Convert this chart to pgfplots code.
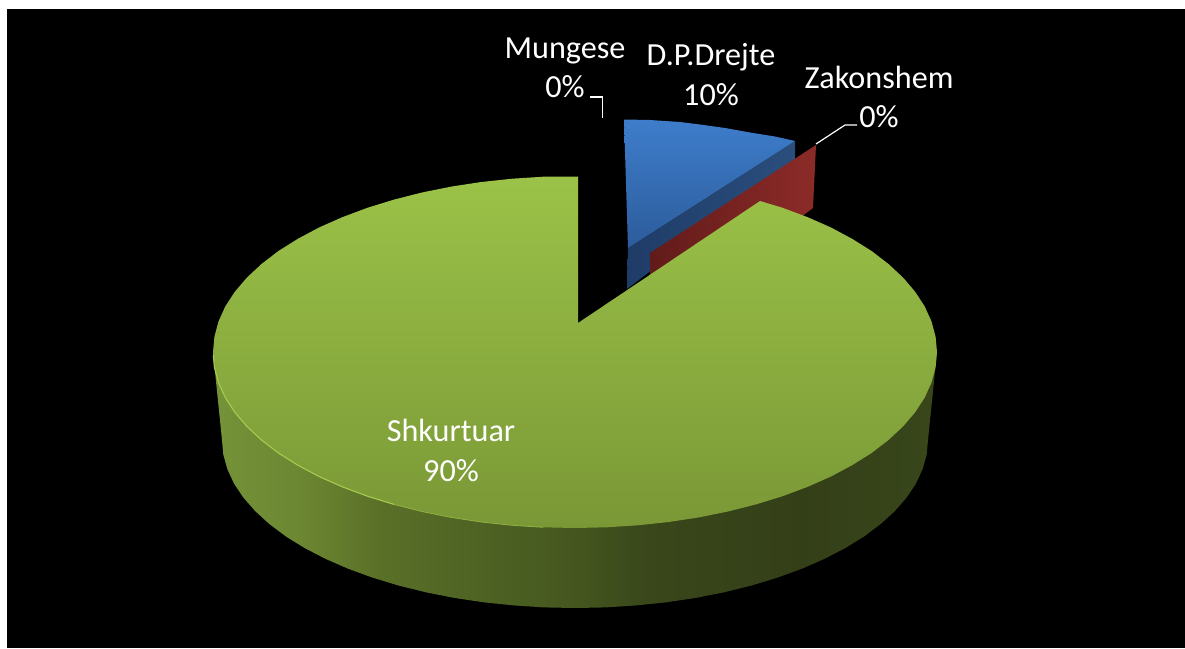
\documentclass[border=0pt]{standalone}
\usepackage{pgfplots}
\pgfplotsset{compat=1.18}
\usepackage{fontspec}
\setmainfont{Carlito}
\definecolor{gtop}{RGB}{155,194,72}
\definecolor{gbot}{RGB}{122,152,54}
\definecolor{gsa}{RGB}{116,146,56}
\definecolor{gsb}{RGB}{108,135,50}
\definecolor{gsc}{RGB}{90,112,40}
\definecolor{gsd}{RGB}{78,98,35}
\definecolor{gse}{RGB}{70,88,31}
\definecolor{gsf}{RGB}{57,71,26}
\definecolor{gsg}{RGB}{52,63,24}
\definecolor{gsh}{RGB}{56,70,26}
\definecolor{rsa}{RGB}{98,27,26}
\definecolor{rsb}{RGB}{140,43,40}
\definecolor{bsa}{RGB}{31,60,103}
\definecolor{bsb}{RGB}{42,78,125}
\definecolor{btop}{RGB}{62,125,203}
\definecolor{bbot}{RGB}{44,92,155}
\definecolor{hla}{RGB}{165,203,80}
\definecolor{hlb}{RGB}{145,178,66}
\pgfdeclarehorizontalshading{gside}{100bp}{color(0bp)=(gsa);color(25.5bp)=(gsa);color(31bp)=(gsb);color(36.5bp)=(gsc);color(43.5bp)=(gsd);color(49.5bp)=(gse);color(55bp)=(gsf);color(65.5bp)=(gsg);color(74.5bp)=(gsh);color(100bp)=(gsh)}
\pgfdeclarehorizontalshading{rside}{100bp}{color(0bp)=(rsa);color(25bp)=(rsa);color(75bp)=(rsb);color(100bp)=(rsb)}
\pgfdeclarehorizontalshading{bside}{100bp}{color(0bp)=(bsa);color(25bp)=(bsa);color(75bp)=(bsb);color(100bp)=(bsb)}
\begin{document}
\begin{tikzpicture}
\begin{axis}[scale only axis,width=1185bp,height=648bp,xmin=0,xmax=1185,ymin=0,ymax=648,y dir=reverse,hide axis,clip=true,no markers]
\addplot[fill=white,draw=none] coordinates {(0,0)(1185,0)(1185,648)(0,648)} -- cycle;
\addplot[fill=black,draw=none] coordinates {(7,9)(1185,9)(1185,648)(7,648)} -- cycle;
% blue slice: side
\addplot[shading=bside,draw=none] coordinates {(628,248)(795,141)(795,160)(627,289)} -- cycle;
% blue slice: top
\addplot[top color=btop,bottom color=bbot,draw=none] coordinates {(624,119.5)(650,120)(680,122)(700,124.5)(725,128)(750,132.5)(775,136.5)(795,141)(628,248)} -- cycle;
% red slice
\addplot[shading=rside,draw=none] coordinates {(650,253)(816,145)(813,208)(803,215.5)(760,232)(650,275)} -- cycle;
% green side
\addplot[shading=gside,draw=none] coordinates {
(213,352)(222,440)(223.3,454.6)(227.4,469.2)(234,483.5)(243.3,497.5)(255.1,511)(269.3,524)(285.8,536.4)(304.6,548)(325.4,558.8)(348.1,568.7)(372.5,577.6)(398.5,585.5)(425.8,592.3)(454.3,597.9)(483.6,602.3)(513.7,605.4)(544.2,607.4)(575,608)
(605.8,607.4)(636.3,605.4)(666.4,602.3)(695.7,597.9)(724.2,592.3)(751.5,585.5)(777.5,577.6)(801.9,568.7)(824.6,558.8)(845.4,548)(864.2,536.4)(880.7,524)(894.9,511)(906.7,497.5)(916,483.5)(922.6,469.2)(926.7,454.6)(928,440)(937,352)} -- cycle;
% green top
\addplot[top color=gtop,bottom color=gbot,draw=none] coordinates {
(578,323)(578,176.5)(543.4,176.7)(512.2,178.7)(481.3,182)(451.2,186.6)(422,192.5)(394,199.6)(367.4,207.8)(342.3,217.2)(319,227.5)(297.7,238.9)(278.4,251)(261.5,264)(246.9,277.6)(234.8,291.8)(225.3,306.4)(218.5,321.4)(214.4,336.7)(213,352)
(214.4,367.3)(218.5,382.6)(225.3,397.6)(234.8,412.2)(246.9,426.4)(261.5,440)(278.4,453)(297.7,465.1)(319,476.5)(342.3,486.8)(367.4,496.2)(394,504.4)(422,511.5)(451.2,517.4)(481.3,522)(512.2,525.3)(543.4,527.3)(575,528)
(606.6,527.3)(637.8,525.3)(668.7,522)(698.8,517.4)(728,511.5)(756,504.4)(782.6,496.2)(807.7,486.8)(831,476.5)(852.3,465.1)(871.6,453)(888.5,440)(903.1,426.4)(915.2,412.2)(924.7,397.6)(931.5,382.6)(935.6,367.3)(937,352)
(935.6,336.7)(931.5,321.4)(924.7,306.4)(915.2,291.8)(903.1,277.6)(888.5,264)(871.6,251)(852.3,238.9)(831,227.5)(807.7,217.2)(782.6,207.8)(760,201)} -- cycle;
% highlight along the front edge
\addplot[draw=hla,line width=1.1bp] coordinates {(213.3,355)(214.4,367.3)(218.5,382.6)(225.3,397.6)(234.8,412.2)(246.9,426.4)(261.5,440)(278.4,453)(297.7,465.1)(319,476.5)(342.3,486.8)(367.4,496.2)(394,504.4)};
\addplot[draw=hlb,line width=0.8bp] coordinates {(394,504.4)(422,511.5)(451.2,517.4)(481.3,522)(512.2,525.3)(543.4,527.3)};
% leader lines
\addplot[draw=white,line width=1.2bp] coordinates {(590,97)(602.5,97)(602.5,118)};
\addplot[draw=white,line width=1.2bp] coordinates {(816,144)(845,125)(857,125)};
% labels
\node[anchor=base,white,inner sep=0pt,font=\fontsize{32.3}{38}\selectfont] at (axis cs:565,58.5) {Mungese};
\node[anchor=base,white,inner sep=0pt,font=\fontsize{32.3}{38}\selectfont] at (axis cs:565,97.5) {0\%};
\node[anchor=base,white,inner sep=0pt,font=\fontsize{32.3}{38}\selectfont] at (axis cs:711,66) {D.P.Drejte};
\node[anchor=base,white,inner sep=0pt,font=\fontsize{32.3}{38}\selectfont] at (axis cs:711,105) {10\%};
\node[anchor=base,white,inner sep=0pt,font=\fontsize{32.3}{38}\selectfont] at (axis cs:879,88.5) {Zakonshem};
\node[anchor=base,white,inner sep=0pt,font=\fontsize{32.3}{38}\selectfont] at (axis cs:879,127.5) {0\%};
\node[anchor=base,white,inner sep=0pt,font=\fontsize{32.3}{38}\selectfont] at (axis cs:451,441) {Shkurtuar};
\node[anchor=base,white,inner sep=0pt,font=\fontsize{32.3}{38}\selectfont] at (axis cs:451,481) {90\%};
\end{axis}
\end{tikzpicture}
\end{document}
